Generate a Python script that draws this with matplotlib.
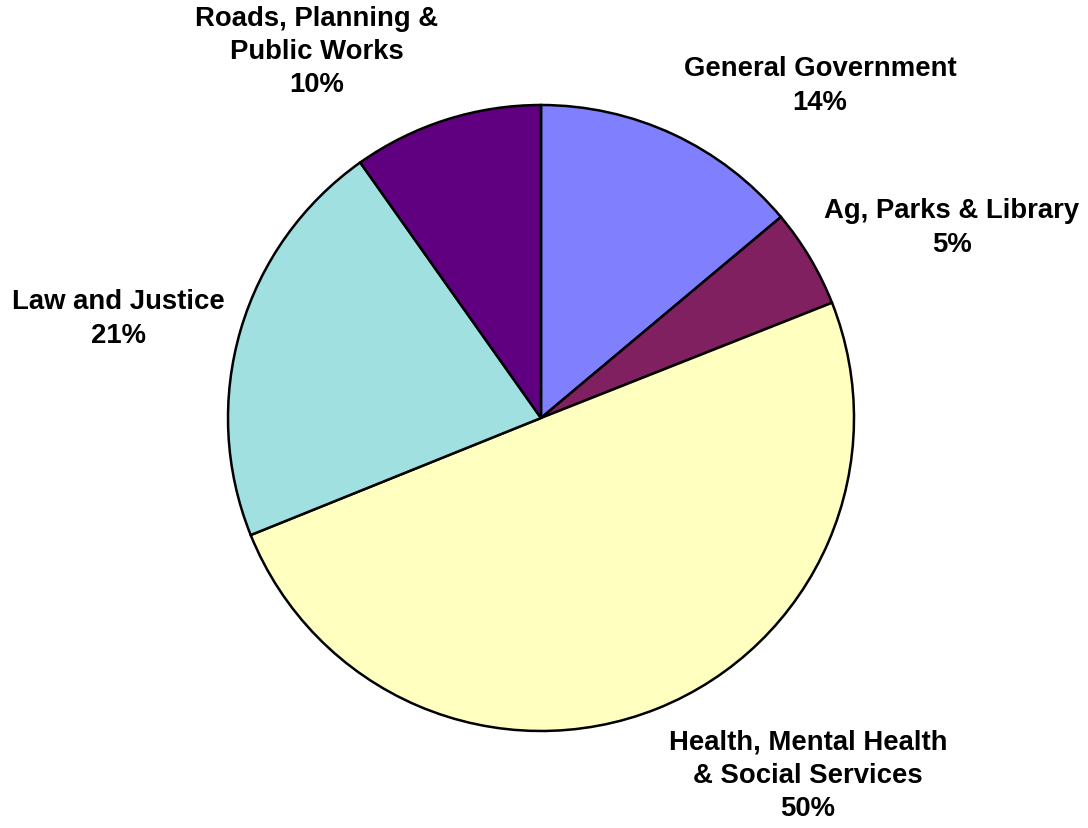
import matplotlib
matplotlib.use("Agg")
import matplotlib.pyplot as plt

categories = ["General Government", "Ag, Parks & Library",
              "Health, Mental Health\n& Social Services", "Law and Justice",
              "Roads, Planning &\nPublic Works"]
values = [13.9, 5.1, 49.9, 21.3, 9.8]
pct_labels = ["14%", "5%", "50%", "21%", "10%"]
colors = ["#8080FF", "#802060", "#FFFFC0", "#A0E0E0", "#600080"]

# label block centers in pixel coordinates (layout)
label_pos = [(820, 86), (952, 228), (808, 776), (118, 319), (317, 52)]

W, H = 1088, 829
fig = plt.figure(figsize=(W / 100, H / 100), dpi=100)
ax = fig.add_axes([0, 0, 1, 1])
ax.set_xlim(0, W)
ax.set_ylim(0, H)
ax.set_aspect("equal")
ax.axis("off")

ax.pie(values, colors=colors, startangle=90, counterclock=False,
       center=(541, H - 419), radius=313,
       wedgeprops=dict(edgecolor="black", linewidth=1.8))
ax.set_xlim(0, W)
ax.set_ylim(0, H)

for cat, pct, (px, py) in zip(categories, pct_labels, label_pos):
    ax.text(px, H - py, f"{cat}\n{pct}", ha="center", va="center",
            fontsize=19.8, fontweight="bold", family=["Liberation Sans", "DejaVu Sans"],
            multialignment="center", linespacing=1.37)

fig.savefig("out.png", dpi=100, facecolor="white")
